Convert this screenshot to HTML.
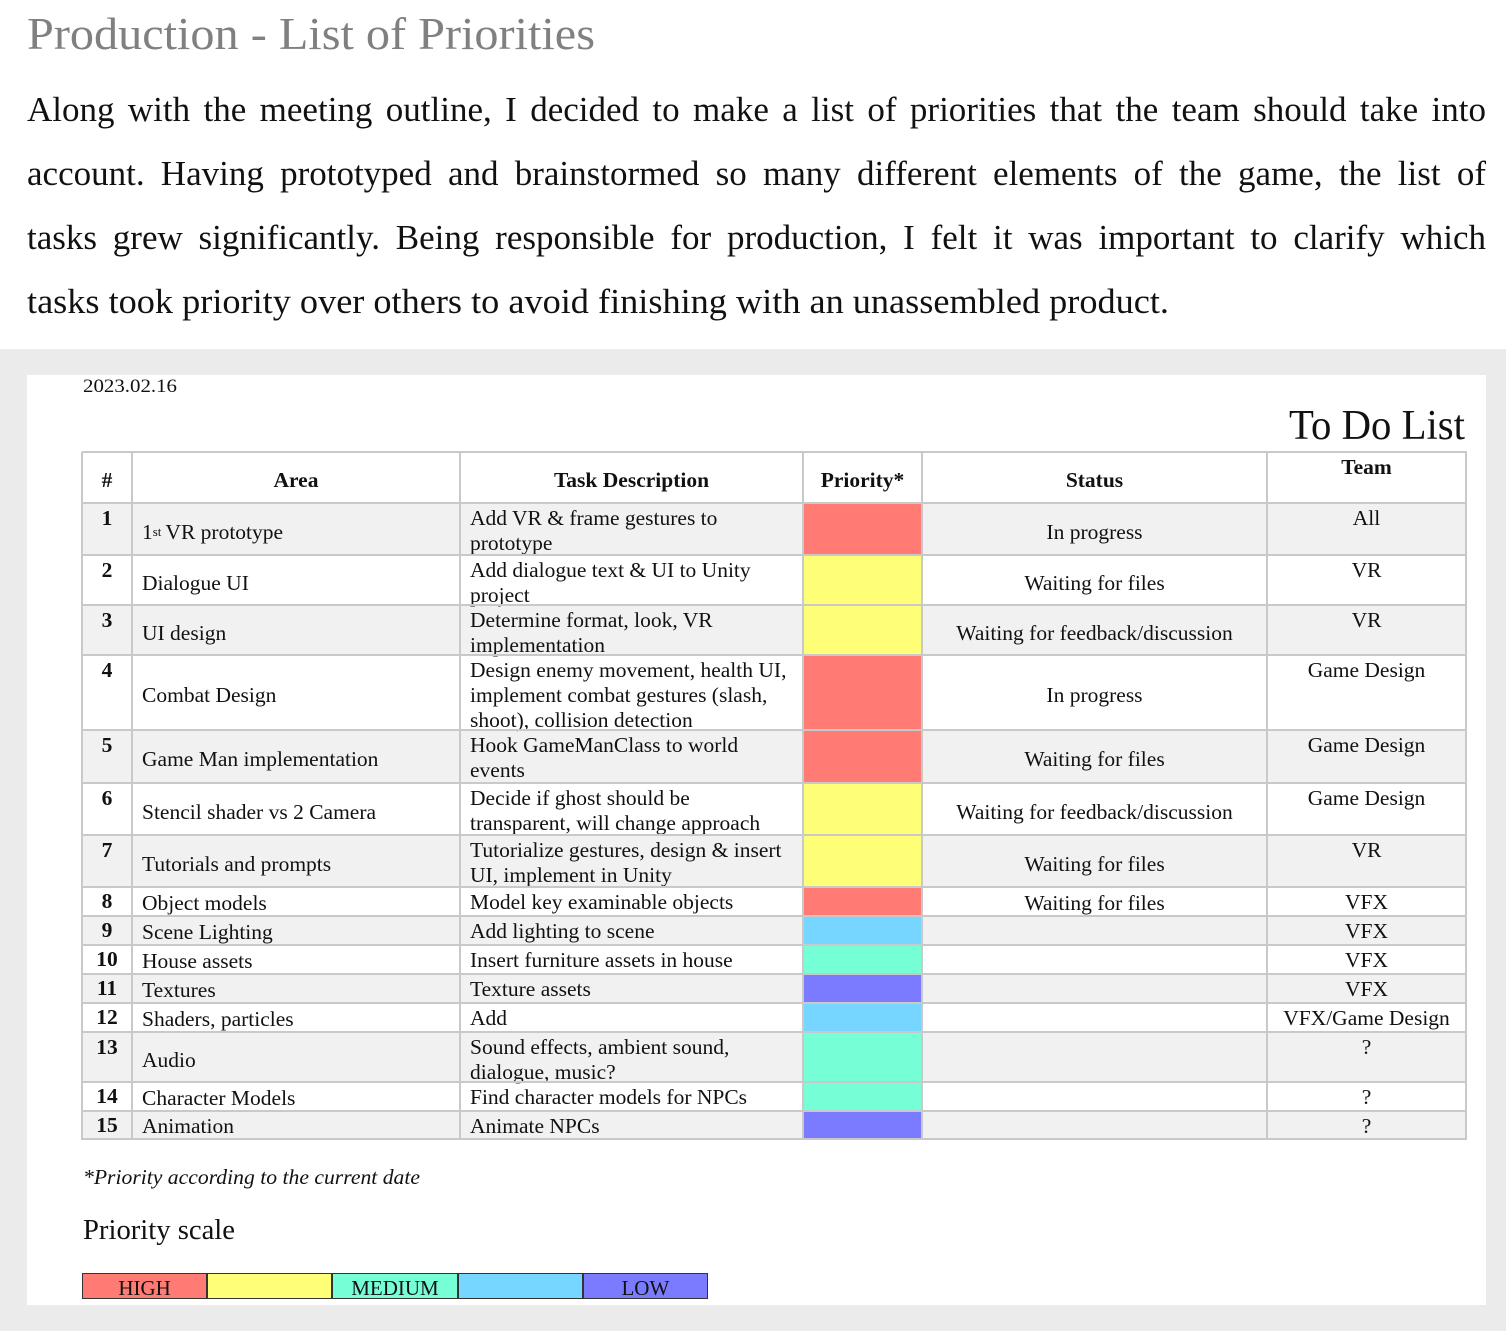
<!DOCTYPE html>
<html><head><meta charset="utf-8">
<style>
html,body{margin:0;padding:0;}
body{width:1506px;height:1338px;position:relative;background:#fff;font-family:"Liberation Serif","Times New Roman",serif;color:#111;overflow:hidden;}
.abs{position:absolute;white-space:nowrap;}
.fit{transform-origin:0 0;}
#bg{position:absolute;left:0;top:349px;width:1506px;height:982px;background:#ebebeb;}
#card{position:absolute;left:27px;top:375px;width:1459px;height:930px;background:#fff;}
.cell{position:absolute;box-sizing:border-box;font-size:21.5px;line-height:25px;}
.hl{position:absolute;background:#c9c9c9;height:2px;}
.vl{position:absolute;background:#c9c9c9;width:2px;}
</style></head>
<body>
<div class="abs fit" id="title" style="left:27px;top:6px;font-size:46px;line-height:56px;color:#808080;" data-w="568">Production - List of Priorities</div>
<div id="para"></div>
<div id="bg"></div>
<div id="card"></div>
<div class="abs fit" style="left:83px;top:376px;font-size:19px;line-height:22px;" data-w="94">2023.02.16</div>
<div class="abs fit" style="left:1289px;top:401px;font-size:42px;line-height:50px;" data-w="176">To Do List</div>
<div id="table"></div>
<div class="abs fit" style="left:83px;top:1165px;font-size:21px;line-height:24px;font-style:italic;" data-w="337">*Priority according to the current date</div>
<div class="abs fit" style="left:83px;top:1215px;font-size:28px;line-height:32px;" data-w="152">Priority scale</div>
<div id="scale"></div>
<script>
const paraLines=["Along with the meeting outline, I decided to make a list of priorities that the team should take into","account. Having prototyped and brainstormed so many different elements of the game, the list of","tasks grew significantly. Being responsible for production, I felt it was important to clarify which","tasks took priority over others to avoid finishing with an unassembled product."];
const justify=[true,true,true,false];
const para=document.getElementById('para');
paraLines.forEach((t,i)=>{
  const d=document.createElement('div');
  
  
  d.className='abs';
  d.style.cssText='left:27px;top:'+(89+i*64)+'px;font-size:35px;line-height:42px;transform-origin:0 0;';
  d.textContent=t;
  para.appendChild(d);
  const w=d.getBoundingClientRect().width;
  const target=justify[i]?1459:1142;
  if(justify[i]&&w<target){const gaps=t.split(' ').length-1;d.style.wordSpacing=((target-w)/gaps)+'px';}
  else {d.style.transform='scaleX('+(target/w)+')';}
});
document.querySelectorAll('.fit').forEach(e=>{const w=e.getBoundingClientRect().width;e.style.transform='scaleX('+(+e.dataset.w/w)+')';});

const colX=[82,132,460,803,922,1267,1466];
const rowY=[452,503,555,605,655,730,783,835,887,916,945,974,1003,1032,1082,1111,1139];
const headers=["#","Area","Task Description","Priority*","Status","Team"];
const areas=["1<sup style='font-size:13px;line-height:0;margin-right:4px'>st</sup>VR prototype","Dialogue UI","UI design","Combat Design","Game Man implementation","Stencil shader vs 2 Camera","Tutorials and prompts","Object models","Scene Lighting","House assets","Textures","Shaders, particles","Audio","Character Models","Animation"];
const tasks=[["Add VR &amp; frame gestures to","prototype"],["Add dialogue text &amp; UI to Unity","project"],["Determine format, look, VR","implementation"],["Design enemy movement, health UI,","implement combat gestures (slash,","shoot), collision detection"],["Hook GameManClass to world","events"],["Decide if ghost should be","transparent, will change approach"],["Tutorialize gestures, design &amp; insert","UI, implement in Unity"],["Model key examinable objects"],["Add lighting to scene"],["Insert furniture assets in house"],["Texture assets"],["Add"],["Sound effects, ambient sound,","dialogue, music?"],["Find character models for NPCs"],["Animate NPCs"]];
const priorities=[1,2,2,1,1,2,2,1,4,3,5,4,3,3,5];
const statuses=["In progress","Waiting for files","Waiting for feedback/discussion","In progress","Waiting for files","Waiting for feedback/discussion","Waiting for files","Waiting for files","","","","","","",""];
const teams=["All","VR","VR","Game Design","Game Design","Game Design","VR","VFX","VFX","VFX","VFX","VFX/Game Design","?","?","?"];
const prColors={1:"#ff7b74",2:"#ffff77",3:"#76ffd6",4:"#76d6ff",5:"#7b7bff"};
const scaleLevels=[1,2,3,4,5];
const scaleLabels=["HIGH","","MEDIUM","","LOW"];

const tb=document.getElementById('table');
function cell(x,y,w,h,html,style,name){
  const c=document.createElement('div');
  
  
  c.className='cell';
  c.style.cssText='left:'+x+'px;top:'+y+'px;width:'+w+'px;height:'+h+'px;'+style;
  c.innerHTML=html;tb.appendChild(c);return c;
}
for(let r=1;r<rowY.length-1;r++){
  if(r%2==1){cell(colX[0],rowY[r],colX[6]-colX[0],rowY[r+1]-rowY[r],'','background:#f1f1f1;','row-shade');}
}
headers.forEach((h,i)=>{
  const top=i==5?'':'display:flex;align-items:center;justify-content:center;padding-top:6px;';
  cell(colX[i],rowY[0]+(i==5?3:0),colX[i+1]-colX[i],i==5?30:rowY[1]-rowY[0],h,'font-weight:bold;text-align:center;'+top,'header-'+h.replace(/[^a-z]/gi,'').toLowerCase());
});
for(let r=0;r<areas.length;r++){
  const y=rowY[r+1],h=rowY[r+2]-y;const single=h<35;
  cell(colX[0],y+(single?2:3),colX[1]-colX[0],25,String(r+1),'font-weight:bold;text-align:center;','row-number');
  cell(colX[1]+10,y,colX[2]-colX[1]-10,h,areas[r],'display:flex;align-items:center;padding-top:'+(single?3:6)+'px;','area-cell');
  cell(colX[2]+10,y+(single?3:3),colX[3]-colX[2]-10,h,tasks[r].join('<br>'),'','task-cell');
  cell(colX[3]+1,y+1,colX[4]-colX[3]-1,h-1,'','background:'+prColors[priorities[r]]+';','priority-swatch');
  cell(colX[4],y,colX[5]-colX[4],h,statuses[r],'display:flex;align-items:center;justify-content:center;padding-top:'+(single?3:6)+'px;','status-cell');
  cell(colX[5],y+(single?3:3),colX[6]-colX[5],25,teams[r],'text-align:center;','team-cell');
}
rowY.forEach(y=>{const l=document.createElement('div');l.className='hl';l.style.cssText+='left:'+colX[0]+'px;top:'+(y-1)+'px;width:'+(colX[6]-colX[0]+1)+'px;';tb.appendChild(l);});
colX.forEach(x=>{const l=document.createElement('div');l.className='vl';l.style.cssText+='left:'+(x-1)+'px;top:'+rowY[0]+'px;height:'+(rowY[rowY.length-1]-rowY[0]+1)+'px;';tb.appendChild(l);});
const sc=document.getElementById('scale');
scaleLevels.forEach((lv,i)=>{
  const d=document.createElement('div');
  
  
  d.className='abs';
  d.style.cssText='left:'+(82+i*125.2)+'px;top:1273px;width:125.2px;height:26px;box-sizing:border-box;border:1.5px solid #333;background:'+prColors[lv]+';text-align:center;font-size:21px;line-height:28px;';
  d.textContent=scaleLabels[i];
  sc.appendChild(d);
});
</script>
</body></html>
